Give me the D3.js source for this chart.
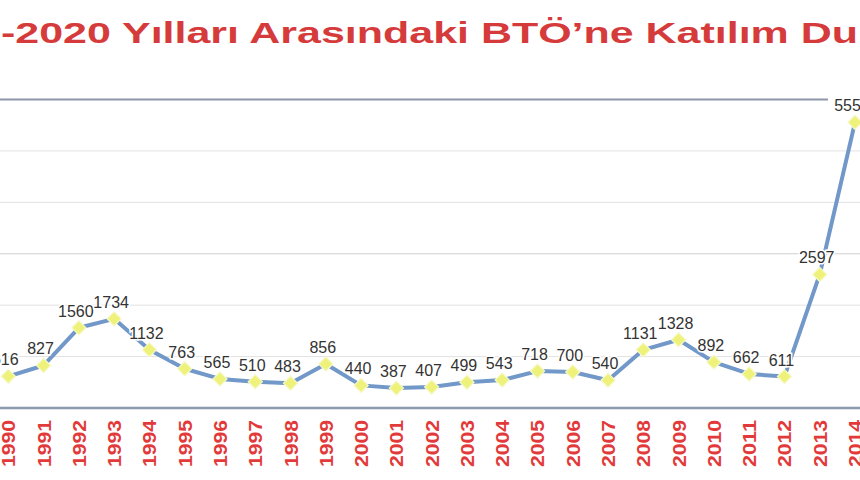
<!DOCTYPE html>
<html>
<head>
<meta charset="utf-8">
<script src="https://cdn.jsdelivr.net/npm/d3@7"></script>
<style>
  body { margin: 0; background: #fff; }
  svg { display: block; font-family: "Liberation Sans", Arial, sans-serif; }
</style>
</head>
<body>
<div id="chart"></div>
<script>
const years = [
  "1990", "1991", "1992", "1993", "1994", "1995", "1996", "1997", "1998",
  "1999", "2000", "2001", "2002", "2003", "2004", "2005", "2006", "2007",
  "2008", "2009", "2010", "2011", "2012", "2013", "2014",
];
const participants = [
  616, 827, 1560, 1734, 1132, 763, 565, 510, 483,
  856, 440, 387, 407, 499, 543, 718, 700, 540,
  1131, 1328, 892, 662, 611, 2597, 5556,
];
const gridTicks = [1000, 2000, 3000, 4000, 5000];
const titleText = "-2020 Yılları Arasındaki BTÖ’ne Katılım Du";

const width = 860;
const height = 480;

const svg = d3
  .select("#chart")
  .append("svg")
  .attr("width", width)
  .attr("height", height);

const data = years.map((year, i) => ({ year, value: participants[i] }));

const x = d3.scalePoint().domain(years).range([8.3, 855]);
const y = d3.scaleLinear().domain([0, 6000]).range([408, 99.5]);

// Title (cropped in the source picture)
svg
  .append("text")
  .attr("x", 1)
  .attr("y", 43)
  .attr("textLength", 857)
  .attr("lengthAdjust", "spacingAndGlyphs")
  .attr("fill", "#d63b3b")
  .attr("font-size", 29)
  .attr("font-weight", "bold")
  .text(titleText);

// Gridlines
svg
  .append("g")
  .selectAll("line")
  .data(gridTicks)
  .join("line")
  .attr("x1", 0)
  .attr("x2", width)
  .attr("y1", (d) => y(d))
  .attr("y2", (d) => y(d))
  .attr("stroke", (d) => (d === 3000 ? "#cfcfcf" : "#e2e2e2"))
  .attr("stroke-width", 1);

// Top border
svg
  .append("line")
  .attr("x1", 0)
  .attr("x2", 828)
  .attr("y1", y(6000))
  .attr("y2", y(6000))
  .attr("stroke", "#8e96aa")
  .attr("stroke-width", 2);

// X axis
const xAxis = svg
  .append("g")
  .attr("transform", `translate(0, ${y(0)})`)
  .call(d3.axisBottom(x).tickSize(0).tickPadding(0));

xAxis.select(".domain").remove();
xAxis
  .append("line")
  .attr("x1", 0)
  .attr("x2", width)
  .attr("stroke", "#8c9ab0")
  .attr("stroke-width", 2.5);

xAxis
  .selectAll(".tick text")
  .attr("transform", "rotate(-90)")
  .attr("x", -12)
  .attr("y", 0)
  .attr("dy", "0.36em")
  .attr("text-anchor", "end")
  .attr("fill", "#e23a3a")
  .attr("font-size", 18)
  .attr("font-weight", "bold")
  .attr("font-family", "'Liberation Sans', Arial, sans-serif")
  .attr("textLength", 47)
  .attr("lengthAdjust", "spacingAndGlyphs");

// Line
const line = d3
  .line()
  .x((d) => x(d.year))
  .y((d) => y(d.value));

svg
  .append("path")
  .datum(data)
  .attr("fill", "none")
  .attr("stroke", "#7198c8")
  .attr("stroke-width", 4)
  .attr("stroke-linejoin", "round")
  .attr("d", line);

// Diamond markers
svg
  .append("g")
  .selectAll("path")
  .data(data)
  .join("path")
  .attr("transform", (d) => `translate(${x(d.year)}, ${y(d.value)}) rotate(45)`)
  .attr("d", "M-5,-5H5V5H-5Z")
  .attr("fill", "#eef27a")
  .attr("stroke", "#f6f8c8")
  .attr("stroke-width", 1.2);

// Value labels
svg
  .append("g")
  .selectAll("text")
  .data(data)
  .join("text")
  .attr("x", (d) => x(d.year) - 3)
  .attr("y", (d) => y(d.value) - 11)
  .attr("text-anchor", "middle")
  .attr("font-size", 16)
  .attr("fill", "#333")
  .attr("stroke", "#fff")
  .attr("stroke-width", 3)
  .attr("paint-order", "stroke")
  .text((d) => d.value);
</script>
</body>
</html>
